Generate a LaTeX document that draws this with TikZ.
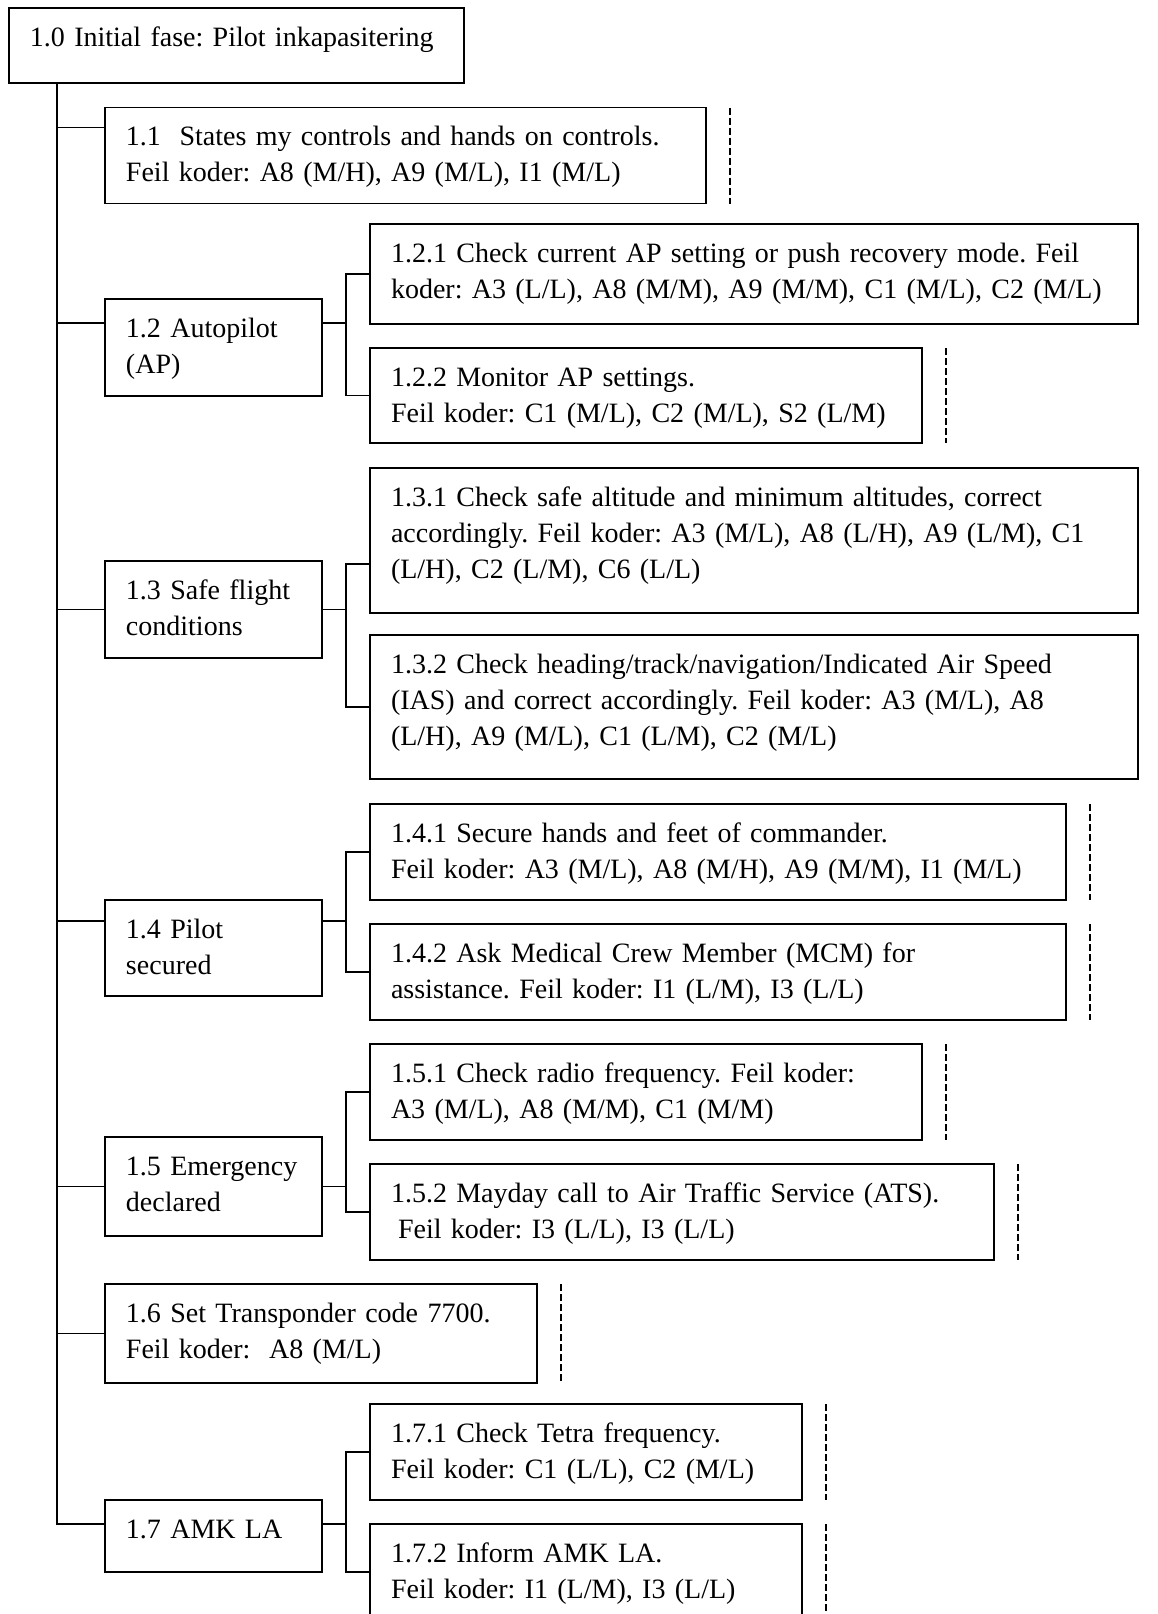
\documentclass[tikz,border=0pt]{standalone}
\usepackage{fontspec}
\setmainfont{Liberation Serif}
\usepackage{tikz}
\usetikzlibrary{positioning}
\frenchspacing
\hyphenpenalty=10000

\begin{document}
\begin{tikzpicture}[
		node distance=12pt,
		every node/.style={
			draw,
			line width=0.8pt,
			outer sep=0pt,
			anchor=north west,
			align=left,
			inner xsep=10.5pt,
			inner ysep=8pt,
			text height=11pt,
			font=\fontsize{14}{18}\selectfont
		},
		link/.style={line width=0.8pt},
		stopline/.style={line width=1.4pt, dash pattern=on 3.5pt off 1.5pt}
		]
		
		\useasboundingbox (0,0) rectangle (579pt,-807pt);
		
		\node (root) [text width=206.5pt, text depth=10.5pt] at (4.5pt,-4pt)
		{1.0 Initial fase: Pilot inkapasitering};
		
		\node (t11) [below right=12.25pt and 48pt of root.south west, text width=279.5pt, text depth=21pt]
		{1.1\ \ States my controls and hands on controls.\\Feil koder: A8 (M/H), A9 (M/L), I1 (M/L)};
		
		\node (t12) [below=47.75pt of t11.south west, anchor=north west, text width=87.5pt, text depth=21.5pt]
		{1.2 Autopilot\\(AP)};
		
		\node (t121) [above right=37.5pt and 24pt of t12.north east, anchor=north west, text width=363pt, text depth=23pt]
		{1.2.1 Check current AP setting or push recovery mode. Feil\\koder: A3 (L/L), A8 (M/M), A9 (M/M), C1 (M/L), C2 (M/L)};
		
		\node (t122) [below=of t121.south west, anchor=north west, text width=255pt, text depth=20.5pt]
		{1.2.2 Monitor AP settings.\\Feil koder: C1 (M/L), C2 (M/L), S2 (L/M)};
		
		\node (t13) [below=82.5pt of t12.south west, anchor=north west, text width=87.5pt, text depth=21.5pt]
		{1.3 Safe flight\\conditions};
		
		\node (t131) [above right=46.5pt and 24pt of t13.north east, anchor=north west, text width=363pt, text depth=45.5pt]
		{1.3.1 Check safe altitude and minimum altitudes, correct\\accordingly. Feil koder: A3 (M/L), A8 (L/H), A9 (L/M), C1\\(L/H), C2 (L/M), C6 (L/L)};
		
		\node (t132) [below=11pt of t131.south west, anchor=north west, text width=363pt, text depth=45pt]
		{1.3.2 Check heading/track/navigation/Indicated Air Speed\\(IAS) and correct accordingly. Feil koder: A3 (M/L), A8\\(L/H), A9 (M/L), C1 (L/M), C2 (M/L)};
		
		\node (t14) [below=121pt of t13.south west, anchor=north west, text width=87.5pt, text depth=21pt]
		{1.4 Pilot\\secured};
		
		\node (t141) [above right=48pt and 24pt of t14.north east, anchor=north west, text width=327pt, text depth=21pt]
		{1.4.1 Secure hands and feet of commander.\\Feil koder: A3 (M/L), A8 (M/H), A9 (M/M), I1 (M/L)};
		
		\node (t142) [below=of t141.south west, anchor=north west, text width=327pt, text depth=21pt]
		{1.4.2 Ask Medical Crew Member (MCM) for\\assistance. Feil koder: I1 (L/M), I3 (L/L)};
		
		\node (t15) [below=70.5pt of t14.south west, anchor=north west, text width=87.5pt, text depth=22.5pt]
		{1.5~Emergency\\declared};
		
		\node (t151) [above right=46.5pt and 24pt of t15.north east, anchor=north west, text width=255pt, text depth=21pt]
		{1.5.1 Check radio frequency. Feil koder:\\A3 (M/L), A8 (M/M), C1 (M/M)};
		
		\node (t152) [below=of t151.south west, anchor=north west, text width=291pt, text depth=21pt]
		{1.5.2 Mayday call to Air Traffic Service (ATS).\\\hspace*{.25em}Feil koder: I3 (L/L), I3 (L/L)};
		
		\node (t16) [below=24pt of t15.south west, anchor=north west, text width=195pt, text depth=22.5pt]
		{1.6 Set Transponder code 7700.\\Feil koder:\ \ A8 (M/L)};
		
		\node (t17) [below=58.5pt of t16.south west, anchor=north west, text width=87.5pt, text depth=9pt]
		{1.7 AMK LA};
		
		\node (t171) [above right=48pt and 24pt of t17.north east, anchor=north west, text width=195pt, text depth=21pt]
		{1.7.1 Check Tetra frequency.\\Feil koder: C1 (L/L), C2 (M/L)};
		
		\node (t172) [below=of t171.south west, anchor=north west, text width=195pt, text depth=21pt]
		{1.7.2 Inform AMK LA.\\Feil koder: I1 (L/M), I3 (L/L)};
		
		\coordinate (spine) at ([xshift=24pt]root.south west);
		\coordinate (c11) at ([yshift=-10pt]t11.north west);
		\coordinate (c12) at ([yshift=-12pt]t12.north west);
		\coordinate (c14) at ([yshift=-10.5pt]t14.north west);
		\coordinate (c17) at ([yshift=-12pt]t17.north west);
		
		\draw[link] (spine)|-(c17);
		\draw[link] (c11)--(c11-|spine);
		\draw[link] (c12)--(c12-|spine);
		\draw[link] (t13.west)--(t13.west-|spine);
		\draw[link] (c14)--(c14-|spine);
		\draw[link] (t15.west)--(t15.west-|spine);
		\draw[link] (t16.west)--(t16.west-|spine);
		
		\draw[link] ([yshift=-12pt]t12.north east)--++(12pt,0) coordinate (b12);
		\draw[link] (t121.west)-|(b12)|-(t122.west);
		\draw[link] (t13.east)--++(12pt,0) coordinate (b13);
		\draw[link] ([yshift=-48pt]t131.north west)-|(b13)|-(t132.west);
		\draw[link] ([yshift=-10.5pt]t14.north east)--++(12pt,0) coordinate (b14);
		\draw[link] (t141.west)-|(b14)|-(t142.west);
		\draw[link] (t15.east)--++(12pt,0) coordinate (b15);
		\draw[link] (t151.west)-|(b15)|-(t152.west);
		\draw[link] ([yshift=-12pt]t17.north east)--++(12pt,0) coordinate (b17);
		\draw[link] (t171.west)-|(b17)|-(t172.west);
		
		\draw[stopline] ([xshift=12pt]t11.north east)--([xshift=12pt]t11.south east);
		\draw[stopline] ([xshift=12pt]t122.north east)--([xshift=12pt]t122.south east);
		\draw[stopline] ([xshift=12pt]t141.north east)--([xshift=12pt]t141.south east);
		\draw[stopline] ([xshift=12pt]t142.north east)--([xshift=12pt]t142.south east);
		\draw[stopline] ([xshift=12pt]t151.north east)--([xshift=12pt]t151.south east);
		\draw[stopline] ([xshift=12pt]t152.north east)--([xshift=12pt]t152.south east);
		\draw[stopline] ([xshift=12pt]t16.north east)--([xshift=12pt]t16.south east);
		\draw[stopline] ([xshift=12pt]t171.north east)--([xshift=12pt]t171.south east);
		\draw[stopline] ([xshift=12pt]t172.north east)--([xshift=12pt]t172.south east);
		
	\end{tikzpicture}
\end{document}
